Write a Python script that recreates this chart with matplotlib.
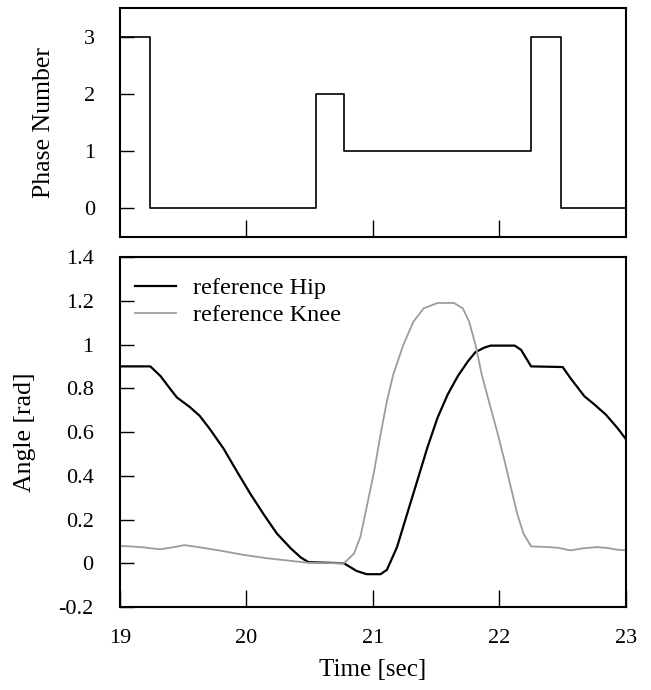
import numpy as np
import matplotlib.pyplot as plt

plt.rcParams['font.family'] = ['Liberation Serif', 'DejaVu Serif']

# phase sequence (step changes)
phase_t = [19.0, 19.24, 20.55, 20.77, 22.25, 22.49, 23.0]
phase_v = [3, 0, 2, 1, 3, 0, 0]

# reference hip angle [rad]
hip_t = [19.0, 19.24, 19.32, 19.40, 19.45, 19.55, 19.63, 19.71, 19.82, 19.92,
         20.03, 20.14, 20.24, 20.35, 20.43, 20.49, 20.77, 20.87, 20.95, 21.06,
         21.11, 21.19, 21.27, 21.35, 21.43, 21.51, 21.59, 21.67, 21.75, 21.81,
         21.88, 21.93, 22.12, 22.17, 22.25, 22.50, 22.56, 22.67, 22.75, 22.84,
         22.93, 23.0]
hip_v = [0.90, 0.90, 0.856, 0.795, 0.758, 0.715, 0.674, 0.614, 0.523, 0.424,
         0.318, 0.22, 0.136, 0.068, 0.026, 0.005, 0.0, -0.035, -0.05, -0.05,
         -0.03, 0.074, 0.226, 0.377, 0.529, 0.665, 0.771, 0.855, 0.923, 0.965,
         0.986, 0.995, 0.995, 0.976, 0.90, 0.897, 0.847, 0.764, 0.726, 0.68,
         0.62, 0.567]

# reference knee angle [rad]
knee_t = [19.0, 19.08, 19.18, 19.25, 19.32, 19.42, 19.51, 19.63, 19.79, 19.98,
          20.16, 20.35, 20.49, 20.77, 20.85, 20.90, 20.95, 21.01, 21.06, 21.11,
          21.16, 21.24, 21.32, 21.40, 21.51, 21.64, 21.71, 21.76, 21.81, 21.86,
          21.93, 21.98, 22.04, 22.09, 22.14, 22.19, 22.25, 22.35, 22.46, 22.56,
          22.66, 22.77, 22.85, 22.93, 23.0]
knee_v = [0.079, 0.077, 0.073, 0.068, 0.064, 0.073, 0.083, 0.073, 0.058, 0.038,
          0.023, 0.011, 0.002, 0.0, 0.044, 0.12, 0.256, 0.423, 0.59, 0.741,
          0.862, 0.999, 1.105, 1.165, 1.19, 1.19, 1.165, 1.105, 0.999, 0.862,
          0.71, 0.605, 0.468, 0.347, 0.226, 0.135, 0.077, 0.075, 0.071, 0.059,
          0.068, 0.074, 0.07, 0.062, 0.059]

angle_ticks = [-0.2, 0, 0.2, 0.4, 0.6, 0.8, 1, 1.2, 1.4]
angle_labels = ['-0.2', '0', '0.2', '0.4', '0.6', '0.8', '1', '1.2', '1.4']
time_ticks = [19, 20, 21, 22, 23]

fig = plt.figure(figsize=(6.51, 6.9), dpi=100)
ax1 = fig.add_axes([0.1843, 0.6565, 0.7773, 0.3312])
ax2 = fig.add_axes([0.1843, 0.1203, 0.7773, 0.5072])

# --- phase number
ax1.step(phase_t, phase_v, where='post', color='black', lw=1.2)
ax1.set_xlim(19, 23)
ax1.set_ylim(-0.5, 3.5)
ax1.set_yticks([0, 1, 2, 3])
ax1.set_xticks([20, 21, 22])
ax1.tick_params(axis='y', direction='in', length=10, width=1, labelsize=16, pad=18)
ax1.tick_params(axis='x', direction='in', length=12, width=1, labelbottom=False)
ax1.set_ylabel('Phase Number', fontsize=18.5)
ax1.yaxis.set_label_coords(-0.128, 0.5)

# --- joint angles
ax2.plot(hip_t, hip_v, color='black', lw=1.6, label='reference Hip')
ax2.plot(knee_t, knee_v, color='#9c9c9c', lw=1.3, label='reference Knee')
ax2.set_xlim(19, 23)
ax2.set_ylim(-0.2, 1.4)
ax2.set_yticks(angle_ticks)
ax2.set_yticklabels(angle_labels)
ax2.set_xticks(time_ticks)
ax2.tick_params(axis='y', direction='in', length=10, width=1, labelsize=16, pad=19)
ax2.tick_params(axis='x', direction='in', length=12, width=1, labelsize=16, pad=16)
ax2.set_ylabel('Angle [rad]', fontsize=18.5)
ax2.yaxis.set_label_coords(-0.165, 0.5)
ax2.set_xlabel('Time [sec]', fontsize=18, labelpad=8)
ax2.legend(loc='upper left', frameon=False, fontsize=17.5, handlelength=1.7,
           handletextpad=0.7, labelspacing=0.2, borderaxespad=0.0,
           bbox_to_anchor=(0.01, 0.97))

for ax in (ax1, ax2):
    for s in ax.spines.values():
        s.set_linewidth(1.5)

fig.savefig('out.png', dpi=100)
